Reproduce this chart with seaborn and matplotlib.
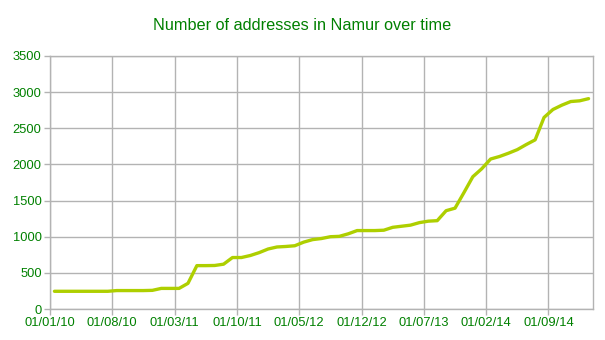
import matplotlib
matplotlib.use("Agg")
import matplotlib.pyplot as plt
import seaborn as sns
import numpy as np
import pandas as pd

title = "Number of addresses in Namur over time"
months = pd.date_range("2010-01-01", periods=61, freq="MS")
addresses = [
    245, 245, 245, 245, 245, 245, 245, 255, 255, 255,
    255, 258, 285, 285, 285, 355, 600, 600, 602, 620,
    712, 712, 740, 780, 830, 858, 865, 875, 925, 960,
    975, 1000, 1005, 1040, 1085, 1085, 1085, 1090, 1130, 1145,
    1160, 1195, 1215, 1222, 1360, 1395, 1610, 1830, 1940, 2075,
    2110, 2155, 2205, 2275, 2340, 2650, 2760, 2820, 2870, 2880,
    2910,
]
y_ticks = [0, 500, 1000, 1500, 2000, 2500, 3000, 3500]
tick_every = 7

sns.set_theme(style="white")
plt.rcParams["font.family"] = ["Liberation Sans", "DejaVu Sans"]

green = "#008000"
grid = "#b3b3b3"
line_color = "#aecf00"

df = pd.DataFrame({"pos": np.arange(len(months)) + 0.5, "value": addresses})

fig = plt.figure(figsize=(6.05, 3.4), dpi=100)
ax = fig.add_axes([50 / 605, 1 - 309 / 340, (593 - 50) / 605, (309 - 56) / 340])

sns.lineplot(data=df, x="pos", y="value", ax=ax, color=line_color, linewidth=2.4, zorder=3)

ax.set_xlim(0, len(months))
ax.set_ylim(0, 3500)
ax.set_yticks(y_ticks)
ax.set_yticklabels([str(v) for v in y_ticks])
tick_pos = list(range(0, len(months), tick_every))
ax.set_xticks(tick_pos)
ax.set_xticklabels([months[i].strftime("%d/%m/%y") for i in tick_pos])

ax.grid(True, color=grid, linewidth=1)
ax.set_axisbelow(True)
for s in ax.spines.values():
    s.set_color(grid)
    s.set_linewidth(1)
ax.tick_params(axis="both", which="both", length=4, width=1, color=grid,
               labelcolor=green, labelsize=9.3, pad=2,
               bottom=True, left=True)
ax.set_xlabel("")
ax.set_ylabel("")

fig.text(0.5, 1 - 26 / 340, title, ha="center", va="center", color=green, fontsize=11.7)

fig.savefig("out.png", dpi=100, facecolor="white")
